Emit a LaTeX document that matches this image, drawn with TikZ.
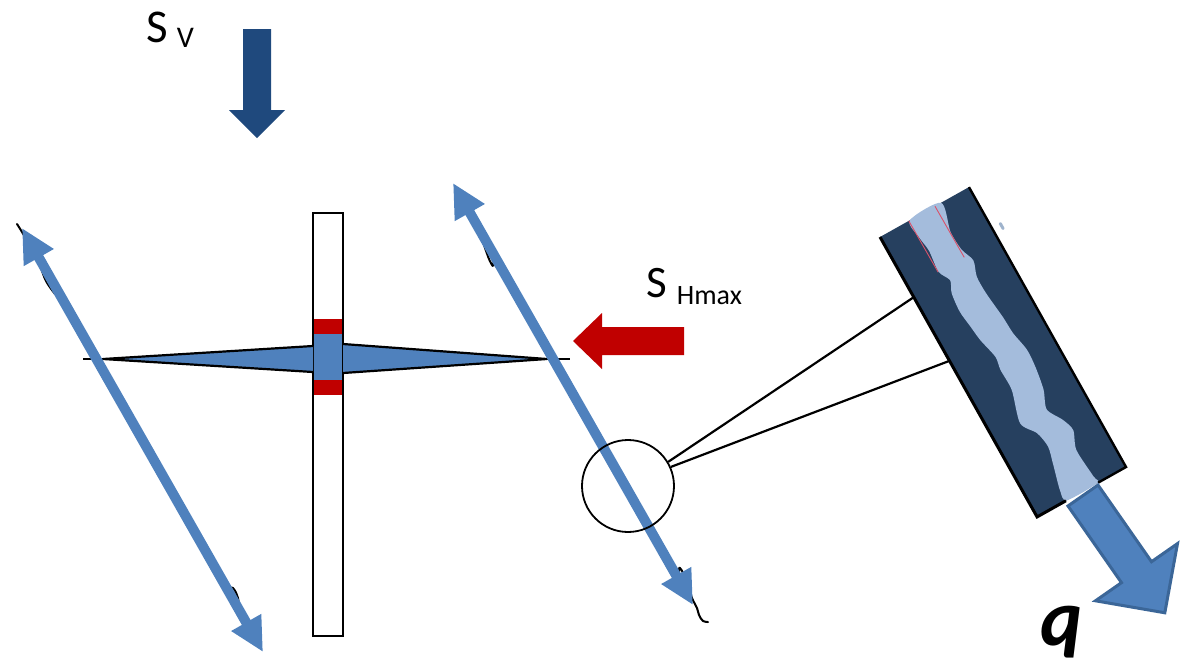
\documentclass[tikz,border=0pt]{standalone}
\usepackage{fontspec}
\setmainfont{Carlito}
\usetikzlibrary{arrows.meta}
\definecolor{svblue}{HTML}{1F497D}
\definecolor{fblue}{HTML}{4F81BD}
\definecolor{sred}{HTML}{C00000}
\definecolor{rock}{HTML}{26405F}
\definecolor{crack}{HTML}{A4BCDC}
\definecolor{qedge}{HTML}{3B6698}
\definecolor{scratch}{HTML}{D9536B}
\definecolor{speck}{HTML}{9FB3CC}

\begin{document}
\begin{tikzpicture}[x=1pt,y=-1pt,
  fault/.style={draw=fblue, line width=10pt,
    {Triangle[length=34pt,width=32pt]}-{Triangle[length=34pt,width=32pt]}},
  trace/.style={draw=black, line width=2pt, line cap=round, line join=round},
  link/.style={draw=black, line width=2.2pt},
  wedge/.style={draw=black, line width=2.2pt, line join=round},
  txt/.style={inner sep=0pt, anchor=base west}
]
\useasboundingbox (0,0) rectangle (1189,665);

% vertical stress arrow
\fill[svblue] (243,29) -- (271,29) -- (271,110) -- (285,110) -- (257,138)
  -- (229,110) -- (243,110) -- cycle;
\node[txt] (sv) at (146,42)
  {{\fontsize{47}{47}\selectfont S}\hspace{9pt}\raisebox{-5pt}{\fontsize{30}{30}\selectfont V}};

% maximum horizontal stress arrow
\fill[sred] (684,327) -- (684,355) -- (602,355) -- (602,369) -- (573,341)
  -- (602,313) -- (602,327) -- cycle;
\node[txt] (sh) at (646,297)
  {{\fontsize{45}{45}\selectfont S}\hspace{10pt}\raisebox{-7pt}{\fontsize{28}{28}\selectfont Hmax}};

% wellbore with perforated interval
\fill[white] (313,213) rectangle (343,636);
\fill[fblue] (313,334) rectangle (343,380);
\fill[sred] (313,319) rectangle (343,334);
\fill[sred] (313,380) rectangle (343,395);
\draw[line width=2pt] (313,213) rectangle (343,636);

% hydraulic fracture wings
\fill[fblue] (313,346) -- (103,359) -- (313,372) -- cycle;
\draw[wedge] (313,346) -- (103,359) -- (313,372);
\draw[wedge] (103,359) -- (83,359);
\fill[fblue] (343,344) -- (547,359) -- (343,373) -- cycle;
\draw[wedge] (343,344) -- (547,359) -- (343,373);
\draw[wedge] (547,359) -- (570,359);

% natural fault traces
\draw[trace] plot[smooth, tension=0.6] coordinates {(17,224) (22,232) (30,246) (40,266)
  (46,281) (55,294) (70,312) (150,452) (219,575) (233,588) (238,598) (241,611) (255,637)};
\draw[trace] plot[smooth, tension=0.6] coordinates {(460,196) (478,228) (485,248) (492,265)
  (505,280) (600,445) (670,562) (680,568) (686,580) (692,598) (697,608) (699,615)
  (703,621) (708,622)};

% shear slip arrows along the faults
\coordinate (f1a) at (22,228);
\coordinate (f1b) at (263,652);
\coordinate (f2a) at (453,183);
\coordinate (f2b) at (693,605);
\draw[fault] (f1a) -- (f1b);
\draw[fault] (f2a) -- (f2b);

% close-up of the fault surface
\begin{scope}[shift={(880,237)}, rotate=29.3]
  \fill[rock] (0,0) rectangle (102,321);
  \fill[crack] plot[smooth cycle, tension=0.45] coordinates {
    (34,0) (34,20) (36,36) (34,59) (40,72) (35,84) (33,104) (35,122) (37,139)
    (42,161) (40,175) (40,198) (31,231) (41,248) (44,265) (40,282) (33,309) (34,321)
    (69,321) (69,313) (67,282) (74,263) (70,249) (61,232) (68,213) (72,189)
    (73,170) (69,149) (68,130) (65,101) (65,82) (70,66) (65,51) (64,30) (70,0)};
  \draw[scratch, line width=0.9pt] (33,0) -- (33.5,59);
  \draw[scratch, line width=0.9pt] (63,0) -- (63.5,59);
  \draw[line width=3pt] (0,0) -- (0,321) -- (33,321);
  \draw[line width=2.4pt] (102,0) -- (102,321) -- (70,321);
  \fill[speck, rounded corners=1pt] (110,46) rectangle (113,54);
  \coordinate (m1) at (0,69);
  \coordinate (m2) at (0,142);
\end{scope}

% flow arrow
\begin{scope}[shift={(1083,495.5)}, rotate=34.9]
  \filldraw[fill=fblue, draw=qedge, line width=3pt, line join=miter]
    (-18.3,0) -- (18.3,0) -- (18.3,93.5) -- (50,93.5) -- (0,143) -- (-50,93.5)
    -- (-18.3,93.5) -- cycle;
\end{scope}
\node[inner sep=0pt, anchor=base, font=\fontsize{80}{80}\selectfont\bfseries\itshape]
  (q) at (1062,645) {q};

% magnifier
\node[circle, draw, line width=1.8pt, minimum size=92pt, inner sep=0pt] (lens) at (628,486) {};
\draw[link] (lens.31) -- (m1);
\draw[link] (lens.24) -- (m2);
\end{tikzpicture}
\end{document}
